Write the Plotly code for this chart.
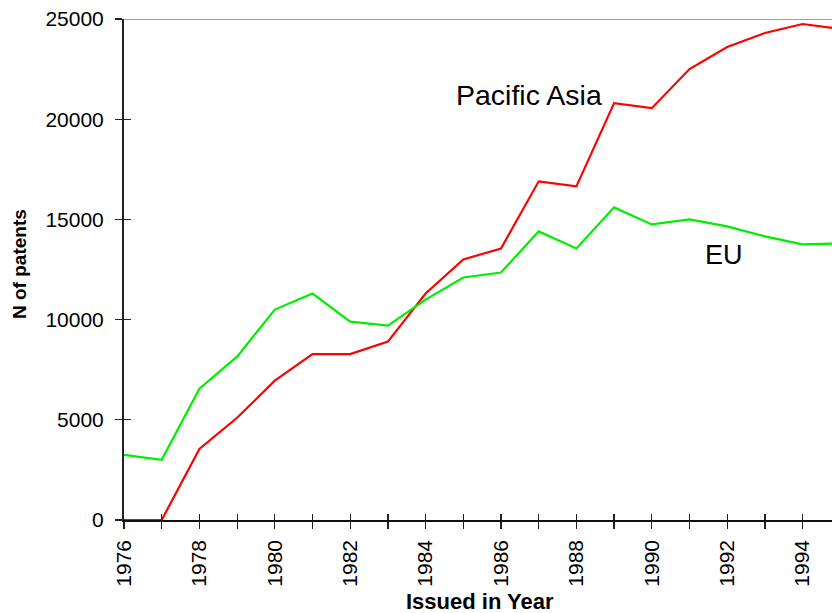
import plotly.graph_objects as go

years = list(range(1976, 1996))
pacific_asia = [0, 0, 3550, 5100, 6950, 8280, 8280, 8900, 11300, 13000,
                13550, 16900, 16650, 20800, 20550, 22500, 23600, 24300, 24750, 24500]
eu = [3250, 3000, 6550, 8150, 10500, 11300, 9900, 9700, 11000, 12100,
      12350, 14400, 13550, 15600, 14750, 15000, 14650, 14150, 13750, 13800]
y_ticks = [0, 5000, 10000, 15000, 20000, 25000]
x_ticks = years
x_ticktext = [str(y) if y % 2 == 0 else "" for y in years]

FONT = "Liberation Sans, Arial, sans-serif"
xr = [1976, 1976 + (832 - 124) / 37.7]
yr = [0, 25000]

fig = go.Figure()
fig.add_trace(go.Scatter(x=years, y=pacific_asia, mode="lines",
                         line=dict(color="#ff0000", width=2.2),
                         showlegend=False, name="Pacific Asia"))
fig.add_trace(go.Scatter(x=years, y=eu, mode="lines",
                         line=dict(color="#00ee00", width=2.2),
                         showlegend=False, name="EU"))
# dummy trace for inner-tick overlay axes
fig.add_trace(go.Scatter(x=[None], y=[None], xaxis="x2", yaxis="y2",
                         showlegend=False, hoverinfo="skip"))

fig.update_layout(
    width=832, height=613,
    margin=dict(l=124, r=0, t=19, b=93),
    paper_bgcolor="white", plot_bgcolor="white",
    font=dict(family=FONT, color="black"),
    xaxis=dict(range=xr, tickvals=x_ticks, ticktext=x_ticktext, tickangle=-90,
               ticks="outside", ticklen=7, tickwidth=1.2, tickcolor="#222",
               ticklabelstandoff=3, ticklabeloverflow="allow",
               showline=True, linecolor="#111", linewidth=1.6,
               showgrid=False, zeroline=False, layer="below traces",
               tickfont=dict(size=21, family=FONT, color="black")),
    yaxis=dict(range=yr, tickvals=y_ticks, tickformat="d",
               ticks="outside", ticklen=7, tickwidth=1.2, tickcolor="#222",
               ticklabelstandoff=7, ticklabeloverflow="allow",
               showline=True, linecolor="#222", linewidth=2,
               showgrid=False, zeroline=False, layer="below traces",
               tickfont=dict(size=21, family=FONT, color="black")),
    xaxis2=dict(range=xr, overlaying="x", tickvals=x_ticks, showticklabels=False,
                ticks="inside", ticklen=6, tickwidth=1.2, tickcolor="#222",
                showgrid=False, zeroline=False, showline=False),
    yaxis2=dict(range=yr, overlaying="y", tickvals=y_ticks, showticklabels=False,
                ticks="inside", ticklen=7, tickwidth=1.2, tickcolor="#222",
                showgrid=False, zeroline=False, showline=False),
    shapes=[dict(type="line", xref="paper", yref="y", x0=0, x1=1, y0=25000, y1=25000,
                 line=dict(color="#808080", width=1.5), layer="below")],
    annotations=[
        dict(x=1986.74, y=21183, xref="x", yref="y", text="Pacific Asia",
             showarrow=False, font=dict(size=28.5, family=FONT, color="black"),
             xanchor="center", yanchor="middle"),
        dict(x=1991.92, y=13199, xref="x", yref="y", text="EU",
             showarrow=False, font=dict(size=27, family=FONT, color="black"),
             xanchor="center", yanchor="middle"),
        dict(x=(19 - 124) / 708, y=(520 - 264) / 501, xref="paper", yref="paper",
             text="<b>N of patents</b>", textangle=-90, showarrow=False,
             font=dict(size=19, family=FONT, color="black"),
             xanchor="center", yanchor="middle"),
        dict(x=(480 - 124) / 708, y=(520 - 602) / 501, xref="paper", yref="paper",
             text="<b>Issued in Year</b>", showarrow=False,
             font=dict(size=22, family=FONT, color="black"),
             xanchor="center", yanchor="middle"),
    ],
)

fig.write_html(
    "out.html",
    config=dict(displayModeBar=False, staticPlot=True),
    post_script="document.documentElement.style.margin='0';"
                "document.body.style.margin='0';"
                "document.body.style.overflow='hidden';"
                "document.documentElement.style.overflow='hidden';",
)
